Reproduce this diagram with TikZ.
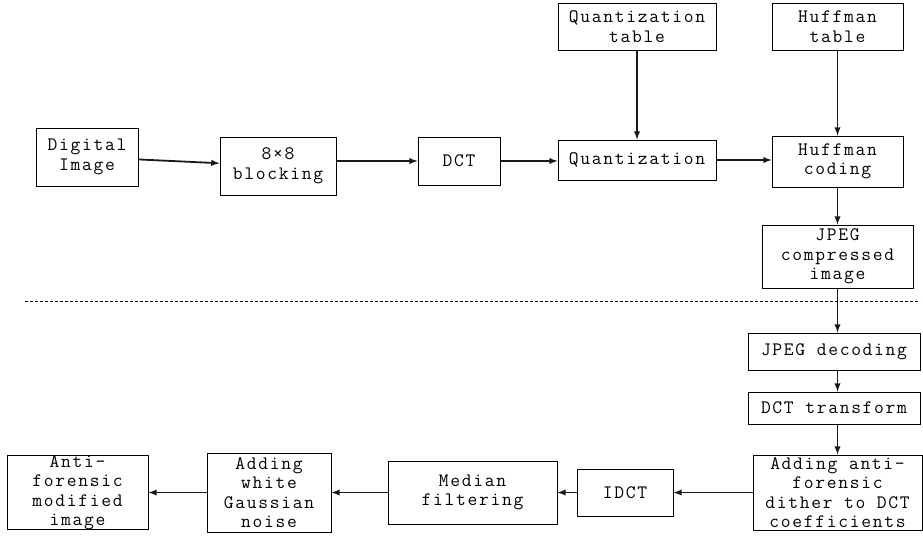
\documentclass[tikz,border=0pt]{standalone}
\usepackage{fontspec}
\newfontfamily\boxfont[LetterSpace=9]{Latin Modern Mono}
\begin{document}
\begin{tikzpicture}
			[x=1pt,y=-1pt,>=latex,
			block/.style={draw,line width=1pt,inner sep=0pt,align=center,font=\boxfont\fontsize{19}{19.5}\selectfont},
			flow/.style={->,line width=1.8pt,black!90}]
			\useasboundingbox (0,0) rectangle (923,536);
			% encoder
			\node[block,name=dig,minimum width=102,minimum height=58] at (87,157) {Digital\\Image};
			\node[block,name=blk,minimum width=116,minimum height=58] at (278,166) {8×8\\blocking};
			\node[block,name=dct,minimum width=82,minimum height=48] at (459,161) {DCT};
			\node[block,name=qnt,minimum width=158,minimum height=40] at (637,160) {Quantization};
			\node[block,name=qtab,minimum width=158,minimum height=47] at (637,26.5) {Quantization\\table};
			\node[block,name=htab,minimum width=131,minimum height=47] at (837.5,26.5) {Huffman\\table};
			\node[block,name=hcod,minimum width=131,minimum height=51] at (837.5,161.5) {Huffman\\coding};
			\node[block,name=jpg,minimum width=151,minimum height=63] at (837.5,256.5) {JPEG\\compressed\\image};
			\draw[flow] (dig) -- (blk);
			\draw[flow] (blk.east |- dct) -- (dct);
			\draw[flow] (dct) -- (dct -| qnt.west);
			\draw[flow] (qnt) -- (qnt -| hcod.west);
			\draw[flow] (qtab) -- (qnt);
			\draw[flow] (htab) -- (hcod);
			\draw[flow] (hcod.south) -- (jpg.north);
			% separator
			\coordinate (sepl) at (25,301);
			\coordinate (sepr) at (920,301);
			\draw[dash pattern=on 3pt off 2pt,line width=0.7pt] (sepl) -- (sepr);
			% decoder and anti-forensics
			\node[block,name=dec,minimum width=172,minimum height=37] at (834,351.5) {JPEG decoding};
			\node[block,name=dctt,minimum width=172,minimum height=32] at (834,408) {DCT transform};
			\node[block,name=dith,minimum width=169,minimum height=75] at (837.5,492.5) {Adding anti—\\forensic\\dither to DCT\\coefficients};
			\node[block,name=idct,minimum width=96,minimum height=47] at (625,492.5) {IDCT};
			\node[block,name=med,minimum width=169,minimum height=63] at (472.5,492.5) {Median\\filtering};
			\node[block,name=awgn,minimum width=124,minimum height=79] at (269,492.5) {Adding\\white\\Gaussian\\noise};
			\node[block,name=out,minimum width=141,minimum height=72] at (77.5,492.5) {Anti—\\forensic\\modified\\image};
			\draw[flow] (jpg.south) -- (jpg.south |- dec.north);
			\draw[flow] (dec.south -| jpg) -- (dctt.north -| jpg);
			\draw[flow] (dctt.south -| jpg) -- (dith.north -| jpg);
			\draw[flow] (dith) -- (idct);
			\draw[flow] (idct) -- (med);
			\draw[flow] (med) -- (awgn);
			\draw[flow] (awgn) -- (out);
		\end{tikzpicture}
\end{document}
